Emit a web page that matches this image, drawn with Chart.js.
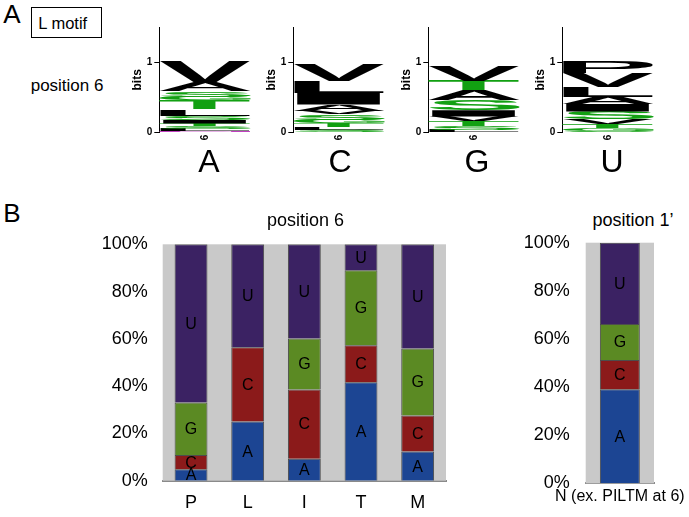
<!DOCTYPE html>
<html><head><meta charset="utf-8">
<script src="https://cdn.jsdelivr.net/npm/chart.js@4.4.0/dist/chart.umd.min.js"></script>
<style>
body{margin:0;width:689px;height:517px;background:#fff;position:relative;overflow:hidden;font-family:"Liberation Sans",Arial,sans-serif;color:#000;}
.abs{position:absolute;}
.t{position:absolute;line-height:1;white-space:nowrap;}
canvas{display:block}
</style></head><body>

<script>
// ---------- Panel B data ----------
const categories = ['P','L','I','T','M'];
const valA = [4.8, 25.0, 9.3, 41.6, 12.3];
const valC = [6.1, 31.4, 29.3, 15.7, 15.3];
const valG = [22.2, 0, 21.5, 31.7, 28.3];
const valU = [66.9, 43.6, 39.9, 11.0, 44.1];
const yTickLabels = ['0%','20%','40%','60%','80%','100%'];
const n1Category = ['N (ex. PILTM at 6)'];
const n1A = [39.1];
const n1C = [12.1];
const n1G = [15.0];
const n1U = [33.8];

// ---------- Panel A (sequence logos, bits, bottom -> top) ----------
const logoNames = ['A','C','G','U'];
const logoTick = ['6'];
const logoALetters = ['N','L','S','T','I','S','L','T','G','S','A','V'];
const logoABits    = [0.02,0.03,0.04,0.04,0.05,0.06,0.09,0.13,0.05,0.08,0.12,0.30];
const logoCLetters = ['S','L','T','G','S','V','A','I','L','V'];
const logoCBits    = [0.04,0.04,0.05,0.05,0.08,0.05,0.09,0.17,0.17,0.24];
const logoGLetters = ['L','S','T','V','I','S','A','T','V'];
const logoGBits    = [0.04,0.05,0.07,0.07,0.09,0.14,0.14,0.14,0.21];
const logoULetters = ['S','G','T','V','S','I','A','L','V','P'];
const logoUBits    = [0.03,0.03,0.06,0.07,0.11,0.11,0.10,0.14,0.19,0.16];
</script>

<div class="t" style="left:3.3px;top:1.3px;font-size:26px;">A</div>
<div class="abs" style="left:30.7px;top:7.3px;width:69px;height:28.4px;border:1px solid #000;"></div>
<div class="t" style="left:38.3px;top:15.3px;font-size:16.5px;">L motif</div>
<div class="t" style="left:30.7px;top:77.3px;font-size:17px;">position 6</div>

<canvas id="logo0" class="abs" width="141" height="135" style="left:120px;top:15px;"></canvas>
<canvas id="logo1" class="abs" width="141" height="135" style="left:254px;top:15px;"></canvas>
<canvas id="logo2" class="abs" width="141" height="135" style="left:389px;top:15px;"></canvas>
<canvas id="logo3" class="abs" width="141" height="135" style="left:523px;top:15px;"></canvas>

<div id="bigLetters"></div>

<div class="t" style="left:3.3px;top:199.7px;font-size:26px;">B</div>
<div class="t" style="left:305.5px;top:210.8px;font-size:18px;transform:translateX(-50%);">position 6</div>
<div class="t" style="left:633px;top:210.8px;font-size:18px;transform:translateX(-50%);">position 1’</div>

<canvas id="main" class="abs" width="470" height="287" style="left:0px;top:230px;"></canvas>
<canvas id="n1" class="abs" width="219" height="287" style="left:470px;top:230px;"></canvas>

<script>
Chart.defaults.font.family = '"Liberation Sans", Arial, sans-serif';
Chart.defaults.color = '#000';

// big nucleotide letters under logos
(function(){
  const xs = [209, 340, 477, 612];
  const host = document.getElementById('bigLetters');
  logoNames.forEach((n,i)=>{
    const d = document.createElement('div');
    d.className = 't';
    d.style.left = xs[i] + 'px';
    d.style.top = (172.5 - 0.8465*32) + 'px';
    d.style.fontSize = '32px';
    d.style.transform = 'translateX(-50%)';
    d.textContent = n;
    host.appendChild(d);
  });
})();

const colorOf = L => ('STGYC'.includes(L) ? '#12a012' : ('NQ'.includes(L) ? '#c040c0' : '#000000'));

function zeroPad(s){ s.paddingTop = 0; s.paddingBottom = 0; s.paddingLeft = 0; s.paddingRight = 0; }

const glyphPlugin = {
  id: 'glyphs',
  afterDatasetsDraw(chart){
    const ctx = chart.ctx;
    chart.data.datasets.forEach((ds,i)=>{
      const meta = chart.getDatasetMeta(i);
      meta.data.forEach((bar,j)=>{
        const v = ds.data[j];
        if (!v) return;
        const p = bar.getProps(['x','y','base','width'], true);
        const left = p.x - p.width/2, top = Math.min(p.y, p.base), h = Math.abs(p.base - p.y);
        ctx.save();
        ctx.font = 'bold 100px "Liberation Sans", Arial, sans-serif';
        ctx.textAlign = 'left'; ctx.textBaseline = 'alphabetic';
        const m = ctx.measureText(ds.label);
        const gw = m.actualBoundingBoxLeft + m.actualBoundingBoxRight;
        const gh = m.actualBoundingBoxAscent + m.actualBoundingBoxDescent;
        ctx.translate(left, top);
        ctx.scale(p.width/gw, h/gh);
        ctx.fillStyle = ds.glyphColor;
        ctx.fillText(ds.label, m.actualBoundingBoxLeft, m.actualBoundingBoxAscent);
        ctx.restore();
      });
    });
  }
};

function makeLogo(id, letters, bits){
  new Chart(document.getElementById(id), {
    type: 'bar',
    data: {
      labels: logoTick,
      datasets: letters.map((L,k)=>({
        label: L, data: [bits[k]], backgroundColor: 'rgba(0,0,0,0)',
        glyphColor: colorOf(L), barPercentage: 1, categoryPercentage: 1, borderWidth: 0
      }))
    },
    options: {
      responsive: false, animation: false, events: [],
      layout: { padding: { top: 12, right: 10, left: 0, bottom: 0 } },
      plugins: { legend: { display: false }, tooltip: { enabled: false } },
      scales: {
        x: {
          stacked: true,
          grid: { display: false, drawTicks: false },
          border: { display: false },
          ticks: { font: { size: 10, weight: 'bold' }, color: '#000', minRotation: 90, maxRotation: 90, padding: 2 },
          afterFit(s){ s.height = 17.3; zeroPad(s); }
        },
        y: {
          stacked: true, min: 0, max: 1.5,
          afterBuildTicks(s){ s.ticks = [{value:0},{value:1}]; },
          grid: { drawOnChartArea: false, drawTicks: true, tickLength: 5, color: '#000', lineWidth: 1 },
          border: { display: true, color: '#000', width: 1 },
          ticks: { font: { size: 10, weight: 'bold' }, color: '#000', padding: 2 },
          title: { display: true, text: 'bits', font: { size: 12, weight: 'bold' }, color: '#000', padding: { top: 10, bottom: 0 } },
          afterFit(s){ s.width = 39.3; zeroPad(s); }
        }
      }
    },
    plugins: [glyphPlugin]
  });
}
makeLogo('logo0', logoALetters, logoABits);
makeLogo('logo1', logoCLetters, logoCBits);
makeLogo('logo2', logoGLetters, logoGBits);
makeLogo('logo3', logoULetters, logoUBits);

// ---------- Panel B ----------
const bgPlugin = {
  id: 'plotBg',
  beforeDatasetsDraw(chart){
    const {ctx, chartArea: a} = chart;
    ctx.save();
    ctx.fillStyle = '#c9c9c9';
    ctx.fillRect(a.left, a.top, a.right - a.left, a.bottom - a.top);
    ctx.restore();
  }
};
const segLabelPlugin = {
  id: 'segLabels',
  afterDatasetsDraw(chart){
    const ctx = chart.ctx;
    ctx.save();
    ctx.font = '16px "Liberation Sans", Arial, sans-serif';
    ctx.fillStyle = '#000';
    ctx.textAlign = 'center';
    ctx.textBaseline = 'middle';
    chart.data.datasets.forEach((ds,i)=>{
      chart.getDatasetMeta(i).data.forEach((bar,j)=>{
        if (!ds.data[j]) return;
        const p = bar.getProps(['x','y','base'], true);
        ctx.fillText(ds.label, p.x, (p.y + p.base)/2 + 1);
      });
    });
    ctx.restore();
  }
};

const segColors = { A: '#1c4593', C: '#8b1a1a', G: '#5b8a23', U: '#3b2263' };

function makeStack(id, labels, a, c, g, u, cfg){
  new Chart(document.getElementById(id), {
    type: 'bar',
    data: {
      labels: labels,
      datasets: [
        { label: 'A', data: a, backgroundColor: segColors.A },
        { label: 'C', data: c, backgroundColor: segColors.C },
        { label: 'G', data: g, backgroundColor: segColors.G },
        { label: 'U', data: u, backgroundColor: segColors.U }
      ]
    },
    options: {
      responsive: false, animation: false, events: [],
      layout: { padding: { top: cfg.top, right: cfg.right, left: 0, bottom: 0 } },
      datasets: { bar: { barPercentage: cfg.barPct, categoryPercentage: 1, borderWidth: 1, borderColor: 'rgba(35,35,35,0.75)' } },
      plugins: { legend: { display: false }, tooltip: { enabled: false } },
      scales: {
        x: {
          stacked: true,
          grid: { display: false, drawTicks: false },
          border: { display: true, color: '#8a8a8a', width: 2 },
          ticks: { font: { size: cfg.xFont }, color: '#000', padding: cfg.xPad, autoSkip: false, minRotation: 0, maxRotation: 0 },
          afterFit(s){ s.height = cfg.xHeight; zeroPad(s); }
        },
        y: {
          stacked: true, min: 0, max: 100,
          grid: { display: false, drawTicks: false },
          border: { display: false },
          ticks: { stepSize: 20, font: { size: 18 }, color: '#000', padding: cfg.yPad,
                   callback: (v, i) => yTickLabels[i] },
          afterFit(s){ s.width = cfg.yWidth; zeroPad(s); }
        }
      }
    },
    plugins: [bgPlugin, segLabelPlugin]
  });
}

makeStack('main', categories, valA, valC, valG, valU,
  { top: 14.3, right: 24, barPct: 0.58, xFont: 18, xPad: 12, xHeight: 287 - 250.7, yPad: 15, yWidth: 162.7 });
makeStack('n1', n1Category, n1A, n1C, n1G, n1U,
  { top: 12.7, right: 35, barPct: 0.585, xFont: 16, xPad: 4, xHeight: 287 - 253.3, yPad: 16, yWidth: 115.7 });
</script>
</body></html>
